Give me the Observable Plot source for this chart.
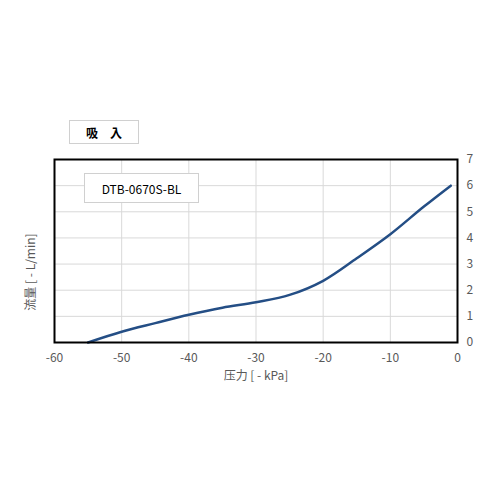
<!DOCTYPE html>
<html>
<head>
<meta charset="utf-8">
<script src="https://cdn.jsdelivr.net/npm/d3@7"></script>
<script src="https://cdn.jsdelivr.net/npm/@observablehq/plot@0.6"></script>
<style>
  html, body { margin: 0; padding: 0; background: #fff; }
  #wrap { position: relative; width: 500px; height: 500px; font-family: "Noto Sans CJK JP", "Noto Sans", sans-serif; }
  .box { position: absolute; border: 1px solid #d0d0d0; background: #fff; color: #000; display: flex; align-items: center; justify-content: center; box-sizing: border-box; }
</style>
</head>
<body>
<div id="wrap"></div>
<script>
const titleText = "吸　入";
const seriesName = "DTB-0670S-BL";
const xLabel = "压力 [ - kPa]";
const yLabel = "流量 [ - L/min]";
const pressure = [-55, -50, -45, -40, -35, -30, -25, -20, -15, -10, -5, -1];
const flow = [0, 0.41, 0.74, 1.06, 1.33, 1.54, 1.82, 2.36, 3.22, 4.14, 5.2, 6.0];
const xTicks = [-60, -50, -40, -30, -20, -10, 0];
const yTicks = [0, 1, 2, 3, 4, 5, 6, 7];

const data = pressure.map((p, i) => ({p, f: flow[i]}));

const chart = Plot.plot({
  width: 500,
  height: 500,
  marginLeft: 54,
  marginRight: 43,
  marginTop: 159,
  marginBottom: 158,
  style: {fontFamily: "'Noto Sans CJK JP', 'Noto Sans', sans-serif", fontSize: "12px", color: "#595959", background: "transparent"},
  x: {domain: [-60, 0], ticks: xTicks},
  y: {domain: [0, 7], ticks: yTicks},
  marks: [
    Plot.gridX(xTicks, {stroke: "#d9d9d9", strokeOpacity: 1}),
    Plot.gridY(yTicks, {stroke: "#d9d9d9", strokeOpacity: 1}),
    Plot.axisX(xTicks, {tickSize: 0, tickPadding: 11, label: null, fill: "#595959", fontSize: 12, tickFormat: d => String(d)}),
    Plot.axisY(yTicks, {anchor: "right", tickSize: 0, tickPadding: 9, label: null, fill: "#595959", fontSize: 12, textAnchor: "start", tickFormat: d => String(d)}),
    Plot.line(data, {x: "p", y: "f", stroke: "#244e85", strokeWidth: 2.5, curve: "catmull-rom"}),
    Plot.frame({stroke: "#000", strokeWidth: 2}),
    Plot.text([xLabel], {frameAnchor: "bottom", dy: 37, fill: "#595959", fontSize: 12}),
    Plot.text([yLabel], {frameAnchor: "left", dx: -23, dy: 21, rotate: -90, textAnchor: "middle", fill: "#595959", fontSize: 12})
  ]
});

const wrap = document.getElementById("wrap");
chart.style.position = "absolute";
chart.style.left = "0";
chart.style.top = "0";
wrap.appendChild(chart);

const t = document.createElement("div");
t.className = "box";
t.textContent = titleText;
Object.assign(t.style, {left: "69px", top: "120px", width: "70px", height: "24px", fontSize: "12px", fontWeight: "bold"});
wrap.appendChild(t);

const l = document.createElement("div");
l.className = "box";
l.textContent = seriesName;
Object.assign(l.style, {left: "84px", top: "173px", width: "115px", height: "30px", fontSize: "12px"});
wrap.appendChild(l);
</script>
</body>
</html>
